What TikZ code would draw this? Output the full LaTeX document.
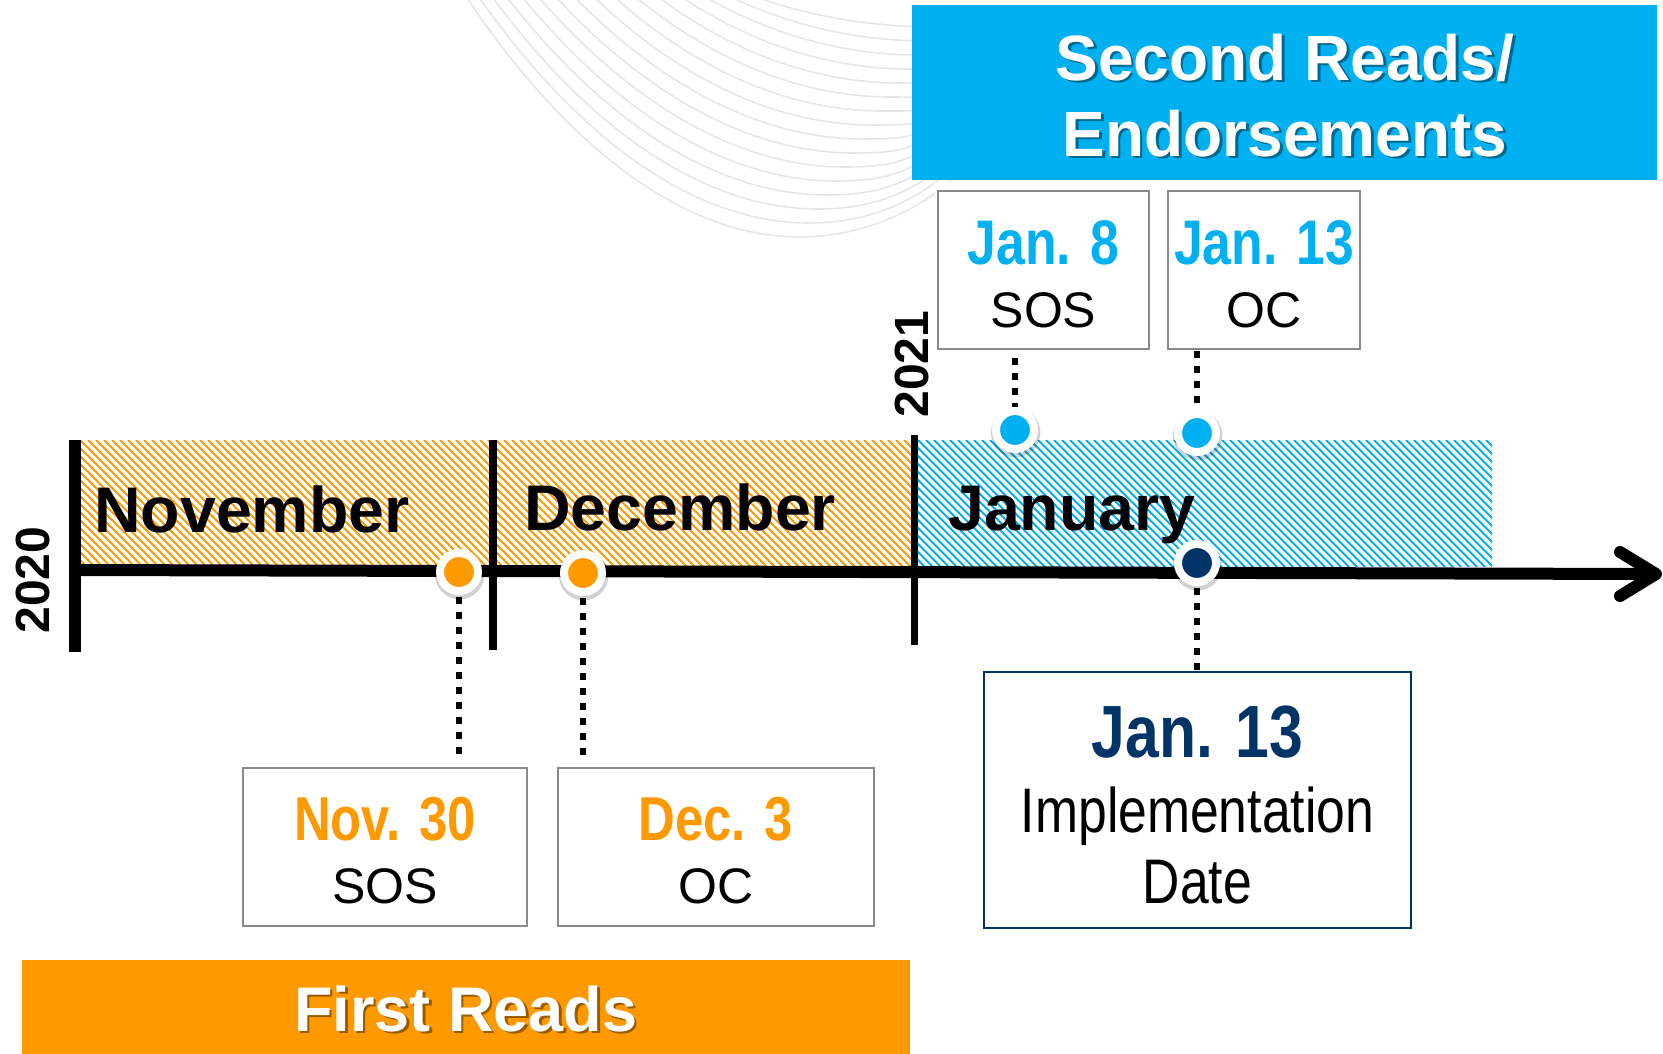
\documentclass[tikz,border=0pt]{standalone}
\usepackage{fontspec}
\setmainfont{Liberation Sans}
\newfontfamily\narrowfont[FakeStretch=0.82]{Liberation Sans}
\usetikzlibrary{shadows}
\definecolor{orng}{HTML}{FF9900}
\definecolor{sky}{HTML}{00B0F0}
\definecolor{navy}{HTML}{003366}
\definecolor{swirlgray}{HTML}{E6E6E6}
\definecolor{boxgray}{HTML}{8A8A8A}
\newcommand{\fsz}[1]{\fontsize{#1}{#1}\selectfont}
\begin{document}
\begin{tikzpicture}[x=1pt,y=-1pt,
  datebox/.style={rectangle, draw=boxgray, line width=2pt, fill=white, inner sep=0pt},
  banner/.style={rectangle, inner sep=0pt},
  lbl/.style={anchor=base, inner sep=0pt, outer sep=0pt},
  datefont/.style={lbl, font=\narrowfont\bfseries\fsz{#1}},
  plainfont/.style={lbl, font=\fsz{#1}},
  narrowplain/.style={lbl, font=\narrowfont\fsz{#1}},
  bannerfont/.style={lbl, font=\bfseries\fsz{64}},
  month/.style={anchor=base west, inner sep=0pt, font=\bfseries\fsz{64.5}},
  yearlbl/.style={rotate=90, inner sep=0pt, font=\bfseries\fsz{48}},
  evdot/.style={circle, minimum size=38pt, inner sep=0pt, line width=8pt, draw=white, fill=#1,
    drop shadow={shadow xshift=0.5pt, shadow yshift=-2pt, shadow scale=1.3, opacity=0.18, fill=black}},
  dotline/.style={line width=6.5pt, dash pattern=on 7pt off 8pt},
  axisline/.style={line width=12pt},
]
\useasboundingbox (0,0) rectangle (1663,1053);

% faint background swirl
\begin{scope}
\clip (0,0) -- (1663,0) -- (1663,182) -- (935,182) -- (935,400) -- (0,400) -- cycle;
\foreach \i in {0,...,15}{
  \pgfmathsetmacro{\sx}{467+12*\i+0.5*\i*\i}
  \pgfmathsetmacro{\bx}{800+9*\i}
  \pgfmathsetmacro{\by}{237-14*\i}
  \pgfmathsetmacro{\ey}{172-11*\i}
  \draw[swirlgray, line width=1.6pt] (\sx,-2) .. controls ({\sx+0.3*(\bx-\sx)},{0.62*\by}) and ({\bx-0.35*(\bx-\sx)},\by) .. (\bx,\by) .. controls ({\bx+60},\by) and (920,{\ey+40}) .. (960,\ey);
}
\end{scope}

% hatched month bands
\begin{scope}
\clip (81,440) rectangle (911,566);
\foreach \x in {-128,-120,...,912} \draw[orng, line width=2.1pt] (\x,440) -- ++(128,128);
\end{scope}
\begin{scope}
\clip (918,440) rectangle (1492,566);
\foreach \x in {790,798,...,1492} \draw[sky, line width=2.1pt] (\x,440) -- ++(128,128);
\end{scope}

% ticks
\draw[axisline] (75,440) -- (75,652);
\draw[line width=8pt] (493,440) -- (493,650);
\draw[line width=7pt] (914,435) -- (914,645);

% timeline with arrow
\coordinate (tlA) at (75,570);
\coordinate (tlB) at (1656,574);
\draw[axisline] (tlA) -- (tlB);
\draw[axisline, line cap=round, line join=round] (1620,552) -- (tlB) -- (1620,596);

% years
\node[yearlbl] (y2020) at (33,580) {2020};
\node[yearlbl] (y2021) at (912,364) {2021};

% months
\node[month] (mnov) at (94,532) {November};
\node[month] (mdec) at (524,530) {December};
\node[month] (mjan) at (948,530) {January};

% header banner
\node[banner, fill=sky, minimum width=745pt, minimum height=175pt] (second) at (1284.5,92.5) {};
\node[bannerfont, text=black, opacity=0.4] (secA-s) at (1287.5,82.5) {Second Reads/};
\node[bannerfont, text=white] (secA) at (1285,80) {Second Reads/};
\node[bannerfont, text=black, opacity=0.4] (secB-s) at (1287.5,158.5) {Endorsements};
\node[bannerfont, text=white] (secB) at (1285,156) {Endorsements};

% footer banner
\node[banner, fill=orng, minimum width=888pt, minimum height=95pt] (first) at (466,1007) {};
\node[bannerfont, font=\bfseries\fsz{63}, text=black, opacity=0.4] (firstT-s) at (468.5,1033.5) {First Reads};
\node[bannerfont, font=\bfseries\fsz{63}, text=white] (firstT) at (466,1031) {First Reads};

% date boxes
\node[datebox, minimum width=284pt, minimum height=158pt] (bnov) at (385,847) {};
\node[datefont=62, text=orng] (tnov1) at (385,840) {Nov. 30};
\node[plainfont=50] (tnov2) at (385,903) {SOS};

\node[datebox, minimum width=316pt, minimum height=158pt] (bdec) at (716,847) {};
\node[datefont=62, text=orng] (tdec1) at (716,840) {Dec. 3};
\node[plainfont=50] (tdec2) at (716,903) {OC};

\node[datebox, minimum width=211pt, minimum height=158pt] (bjan8) at (1043.5,270) {};
\node[datefont=63, text=sky] (tj81) at (1043.5,264) {Jan. 8};
\node[plainfont=50] (tj82) at (1043.5,327) {SOS};

\node[datebox, minimum width=192pt, minimum height=158pt] (bjan13) at (1264,270) {};
\node[datefont=63, text=sky] (tj131) at (1264,264) {Jan. 13};
\node[plainfont=50] (tj132) at (1264,327) {OC};

\node[datebox, draw=navy, line width=2.5pt, minimum width=427pt, minimum height=256pt] (bimpl) at (1197.5,800) {};
\node[datefont=74, text=navy] (ti1) at (1197.5,757) {Jan. 13};
\node[narrowplain=63] (ti2) at (1197.5,832) {Implementation};
\node[narrowplain=63] (ti3) at (1197.5,903) {Date};

% event dots
\node[evdot=orng] (dnov) at (459,572) {};
\node[evdot=orng] (ddec) at (583,573) {};
\node[evdot=sky] (djan8) at (1015,430) {};
\node[evdot=sky] (djan13) at (1197,433) {};
\node[evdot=navy] (dimpl) at (1197,563) {};

% dotted connectors
\draw[dotline, shorten <=2pt, shorten >=8pt] (dnov) -- (dnov |- bnov.north);
\draw[dotline, shorten <=2pt, shorten >=8pt] (ddec) -- (ddec |- bdec.north);
\draw[dotline, shorten <=8pt] (djan8 |- bjan8.south) -- (djan8);
\draw[dotline, shorten <=1pt] (djan13 |- bjan13.south) -- (djan13);
\draw[dotline, shorten <=2pt] (dimpl) -- (dimpl |- bimpl.north);
\end{tikzpicture}
\end{document}
